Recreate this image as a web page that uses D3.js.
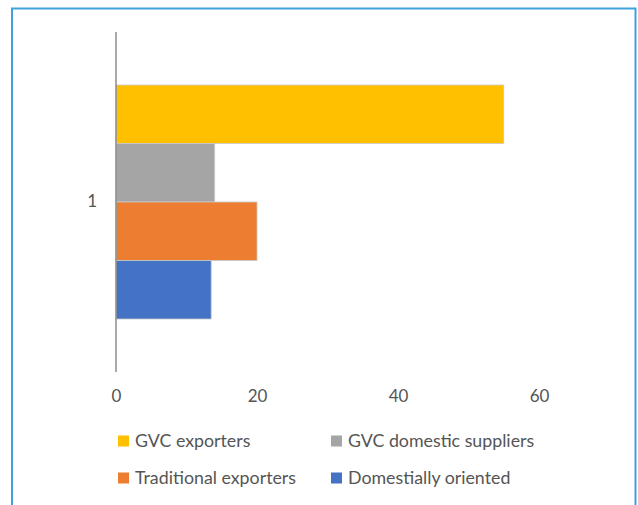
<!DOCTYPE html>
<html><head><meta charset="utf-8">
<script src="https://cdn.jsdelivr.net/npm/d3@7"></script>
<style>body{margin:0;background:#fff}svg{display:block}text{font-family:Lato,"Open Sans",sans-serif}</style>
</head><body><svg id="c" width="638" height="505"></svg>
<script>
const categories = ["1"];
const seriesNames = ["GVC exporters","GVC domestic suppliers","Traditional exporters","Domestially oriented"];
const seriesValues = [55, 14, 20, 13.5];
const seriesColors = ["#FFC000","#A5A5A5","#ED7D31","#4472C4"];
const xTicks = [0,20,40,60];

const svg = d3.select("#c");
// frame
svg.append("path").attr("d","M12,505 V8.5 H635.5 V505").attr("fill","none").attr("stroke","#3FA2DF").attr("stroke-width",2);

const x = d3.scaleLinear().domain([0,60]).range([116,539]);
const y = d3.scaleBand().domain(categories).range([32,372]).paddingInner(0).paddingOuter(0.2265);
const ys = d3.scaleBand().domain(seriesNames).range([0,y.bandwidth()]);
// bars
const g = svg.append("g");
categories.forEach(c=>{
  seriesNames.forEach((s,i)=>{
    g.append("rect").attr("x",x(0)).attr("y",y(c)+ys(s)).attr("width",x(seriesValues[i])-x(0)).attr("height",ys.bandwidth())
     .attr("fill",seriesColors[i]).attr("stroke","#c9c9c9").attr("stroke-width",0.8);
  });
});
// axis line
svg.append("line").attr("x1",x(0)).attr("x2",x(0)).attr("y1",32).attr("y2",372).attr("stroke","#8c8c8c").attr("stroke-width",1.5);
// x tick labels
const xa = d3.axisBottom(x).tickValues(xTicks).tickSize(0).tickPadding(0);
const xg = svg.append("g").attr("transform","translate(0,390)").call(xa);
xg.select(".domain").remove();
xg.selectAll("text").attr("fill","#555").attr("font-size",17).attr("dy","0.71em").style("font-family","Lato,sans-serif");
// y category labels
const ya = d3.axisLeft(y).tickSize(0).tickPadding(0);
const yg = svg.append("g").attr("transform","translate(97,0)").call(ya);
yg.select(".domain").remove();
yg.selectAll("text").attr("fill","#555").attr("font-size",17).style("font-family","Lato,sans-serif");
// legend
const legPos = [[118,441],[331,441],[118,478],[331,478]];
seriesNames.forEach((s,i)=>{
  const [lx,ly]=legPos[i];
  svg.append("rect").attr("x",lx).attr("y",ly-5.5).attr("width",11).attr("height",11).attr("fill",seriesColors[i]);
  svg.append("text").attr("x",lx+17).attr("y",ly).attr("dy","0.35em").attr("fill","#555").attr("font-size",17.8).text(s);
});
</script></body></html>
